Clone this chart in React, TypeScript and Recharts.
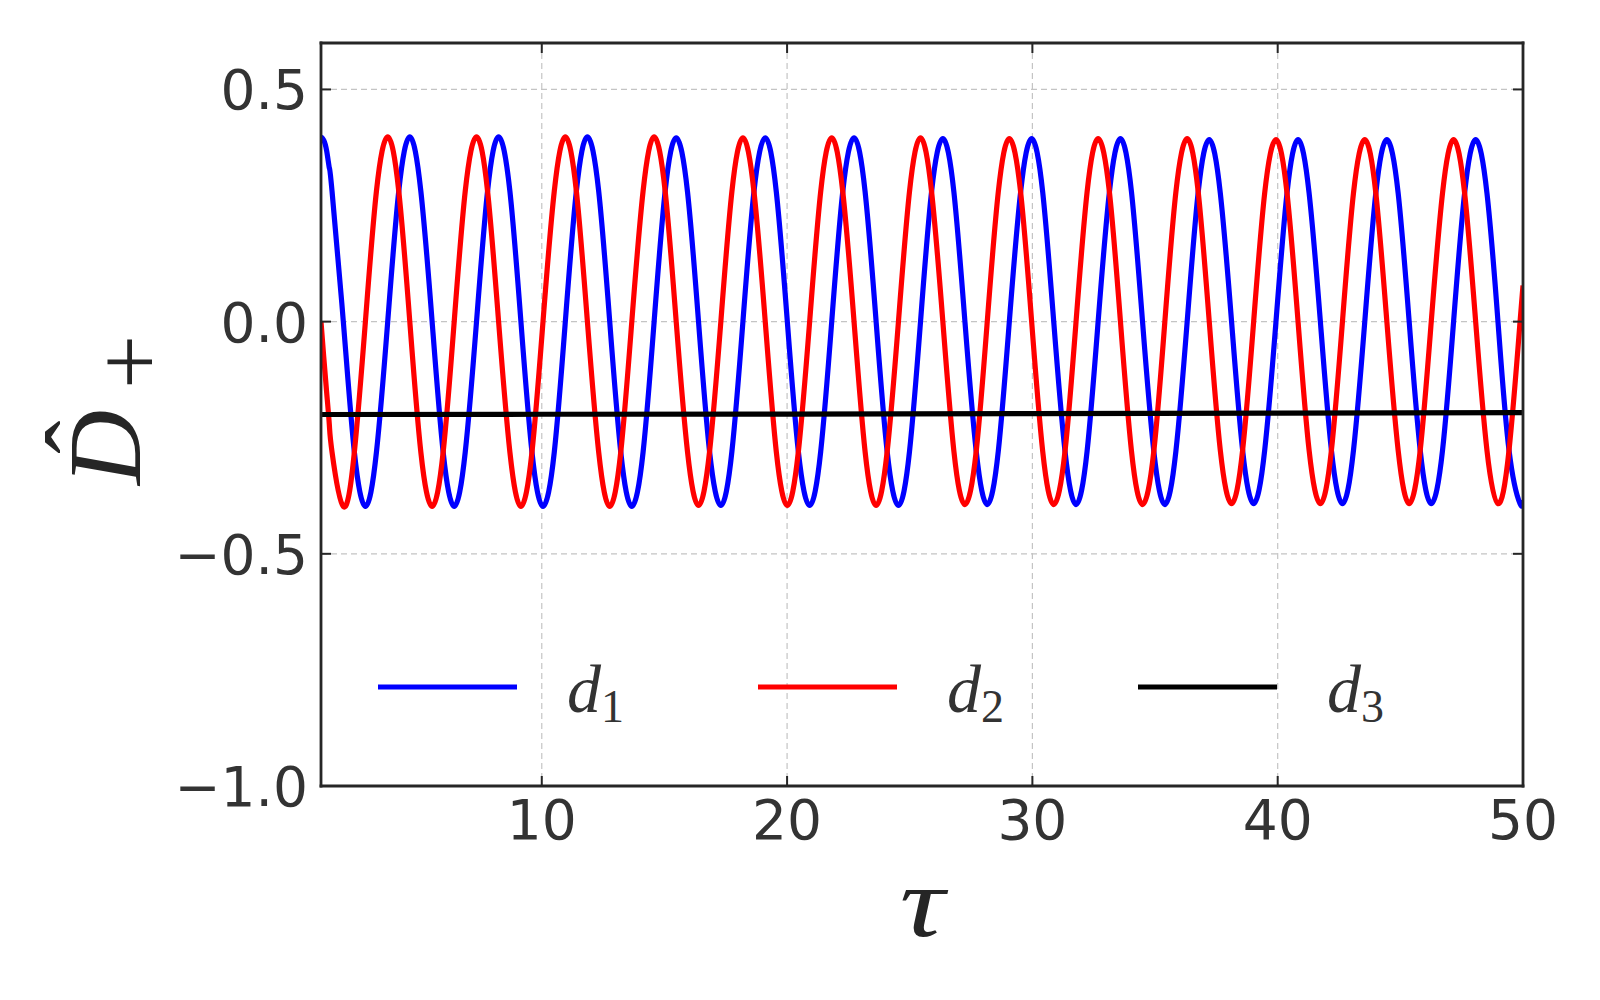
import React from 'react';
import { LineChart, Line, XAxis, YAxis, CartesianGrid, Legend, Label } from 'recharts';

// ---------- data ----------
const tau = [
  1.0, 1.11, 1.23, 1.34, 1.45, 1.91, 2.36, 2.81, 3.26, 3.72, 4.17,
  4.62, 5.07, 5.53, 5.98, 6.43, 6.88, 7.34, 7.79,
  8.24, 8.7, 9.15, 9.6, 10.05, 10.51, 10.96, 11.41,
  11.86, 12.32, 12.77, 13.22, 13.67, 14.13, 14.58, 15.03,
  15.48, 15.94, 16.39, 16.84, 17.3, 17.75, 18.2, 18.65,
  19.11, 19.56, 20.01, 20.46, 20.92, 21.37, 21.82, 22.27,
  22.73, 23.18, 23.63, 24.08, 24.54, 24.99, 25.44, 25.89,
  26.35, 26.8, 27.25, 27.71, 28.16, 28.61, 29.06, 29.52,
  29.97, 30.42, 30.87, 31.33, 31.78, 32.23, 32.68, 33.14,
  33.59, 34.04, 34.49, 34.95, 35.4, 35.85, 36.31, 36.76,
  37.21, 37.66, 38.12, 38.57, 39.02, 39.47, 39.93, 40.38,
  40.83, 41.28, 41.74, 42.19, 42.64, 43.09, 43.55, 44.0,
  44.45, 44.91, 45.36, 45.81, 46.26, 46.72, 47.17, 47.62,
  48.07, 48.53, 48.98, 49.43, 49.88, 50.0,
];

const d1 = [
  0.398, 0.391, 0.368, 0.331, 0.281, 0, -0.281, -0.398, -0.281, 0, 0.281,
  0.398, 0.281, 0, -0.281, -0.398, -0.281, 0, 0.281,
  0.398, 0.281, 0, -0.281, -0.398, -0.281, 0, 0.281,
  0.398, 0.281, 0, -0.281, -0.398, -0.281, 0, 0.281,
  0.396, 0.28, 0, -0.28, -0.396, -0.28, 0, 0.28,
  0.396, 0.28, 0, -0.28, -0.396, -0.28, 0, 0.28,
  0.396, 0.28, 0, -0.28, -0.396, -0.28, 0, 0.28,
  0.394, 0.279, 0, -0.279, -0.394, -0.279, 0, 0.279,
  0.394, 0.279, 0, -0.279, -0.394, -0.279, 0, 0.279,
  0.394, 0.279, 0, -0.279, -0.394, -0.279, 0, 0.279,
  0.392, 0.277, 0, -0.277, -0.392, -0.277, 0, 0.277,
  0.392, 0.277, 0, -0.277, -0.392, -0.277, 0, 0.277,
  0.392, 0.277, 0, -0.277, -0.392, -0.277, 0, 0.277,
  0.392, 0.277, 0, -0.277, -0.392, -0.384,
];

const d2 = [
  0, -0.075, -0.152, -0.222, -0.281, -0.398, -0.281, 0, 0.281, 0.398, 0.281,
  0, -0.281, -0.398, -0.281, 0, 0.281, 0.398, 0.281,
  0, -0.281, -0.398, -0.281, 0, 0.281, 0.398, 0.281,
  0, -0.281, -0.398, -0.281, 0, 0.281, 0.398, 0.281,
  0, -0.28, -0.396, -0.28, 0, 0.28, 0.396, 0.28,
  0, -0.28, -0.396, -0.28, 0, 0.28, 0.396, 0.28,
  0, -0.28, -0.396, -0.28, 0, 0.28, 0.396, 0.28,
  0, -0.279, -0.394, -0.279, 0, 0.279, 0.394, 0.279,
  0, -0.279, -0.394, -0.279, 0, 0.279, 0.394, 0.279,
  0, -0.279, -0.394, -0.279, 0, 0.279, 0.394, 0.279,
  0, -0.277, -0.392, -0.277, 0, 0.277, 0.392, 0.277,
  0, -0.277, -0.392, -0.277, 0, 0.277, 0.392, 0.277,
  0, -0.277, -0.392, -0.277, 0, 0.277, 0.392, 0.277,
  0, -0.277, -0.392, -0.277, 0, 0.078,
];

const tau3 = [1, 10, 20, 30, 40, 50];
const d3 = [-0.2, -0.1995, -0.199, -0.198, -0.197, -0.196];

const seriesNames = ['d1', 'd2', 'd3'];
const seriesSubs = ['1', '2', '3'];
const seriesColors = ['#0000ff', '#ff0000', '#000000'];

const xTicks = [10, 20, 30, 40, 50];
const yTicks = [0.5, 0, -0.5, -1.0];
const xDomain = [1, 50];
const yDomain = [-1.0, 0.6];

// ---------- tables built from the arrays ----------
const data1 = tau.map((t, i) => ({ tau: t, v: d1[i] }));
const data2 = tau.map((t, i) => ({ tau: t, v: d2[i] }));
const data3 = tau3.map((t, i) => ({ tau: t, v: d3[i] }));

// ---------- styling ----------
const FRAME = '#262626';
const TEXT = '#333333';
const TICK = 10;
const TICK_FONT = 'DejaVu Sans';
const TICK_SIZE = 55;
const MATH_FONT = '"Liberation Serif", "DejaVu Serif", serif';
const LW = 5.2;

const fmtY = (v: number) => {
  if (v === 0) return '0.0';
  const s = Math.abs(v).toFixed(1);
  return v < 0 ? '\u2212' + s : s;
};

const BottomTick = (p: any) => {
  const { x, y, payload } = p;
  return (
    <g>
      <line x1={x} y1={y} x2={x} y2={y - TICK} stroke={FRAME} strokeWidth={2} />
      <text x={x} y={y + 53} textAnchor="middle" fontFamily={TICK_FONT} fontSize={TICK_SIZE} fill={TEXT}>
        {String(payload.value)}
      </text>
    </g>
  );
};

const TopTick = (p: any) => {
  const { x, y } = p;
  return <line x1={x} y1={y} x2={x} y2={y + TICK} stroke={FRAME} strokeWidth={2} />;
};

const LeftTick = (p: any) => {
  const { x, y, payload } = p;
  return (
    <g>
      <line x1={x} y1={y} x2={x + TICK} y2={y} stroke={FRAME} strokeWidth={2} />
      <text x={x - 13} y={y + 20} textAnchor="end" fontFamily={TICK_FONT} fontSize={TICK_SIZE} fill={TEXT}>
        {fmtY(payload.value)}
      </text>
    </g>
  );
};

const RightTick = (p: any) => {
  const { x, y } = p;
  return <line x1={x} y1={y} x2={x - TICK} y2={y} stroke={FRAME} strokeWidth={2} />;
};

const XLabel = () => (
  <text
    x={0}
    y={0}
    transform="translate(922,936) scale(1.25,1)"
    textAnchor="middle"
    fontFamily={MATH_FONT}
    fontStyle="italic"
    fontSize={100}
    fill={FRAME}
  >
    τ
  </text>
);

const YLabel = () => (
  <g transform="translate(140,485) rotate(-90)">
    <text x={0} y={0} fontFamily={MATH_FONT} fontStyle="italic" fontSize={104} fill={FRAME}>
      D
    </text>
    <text x={48} y={-25} textAnchor="middle" fontFamily={MATH_FONT} fontSize={100} fill={FRAME}>
      {'\u02C6'}
    </text>
    <text x={96} y={21} fontFamily={MATH_FONT} fontSize={96} fill={FRAME}>
      +
    </text>
  </g>
);

const LegendContent = (props: any) => {
  const payload = props.payload || [];
  return (
    <svg width={1600} height={1000} style={{ position: 'absolute', left: 0, top: 0, pointerEvents: 'none' }}>
      {payload.map((entry: any, i: number) => {
        const x0 = 378 + i * 380;
        return (
          <g key={i}>
            <line x1={x0} y1={687} x2={x0 + 139} y2={687} stroke={entry.color} strokeWidth={LW} />
            <text x={x0 + 189} y={712} fontFamily={MATH_FONT} fill={TEXT}>
              <tspan fontStyle="italic" fontSize={68}>d</tspan>
              <tspan fontSize={46} dy={10}>{seriesSubs[i]}</tspan>
            </text>
          </g>
        );
      })}
    </svg>
  );
};

export default function App() {
  return (
    <div style={{ position: 'absolute', left: 0, top: 0, width: 1600, height: 1000, background: '#fff' }}>
      <LineChart width={1600} height={1000} margin={{ top: 42, right: 76, bottom: 0, left: 0 }}>
        <CartesianGrid stroke="#c4c4c4" strokeDasharray="6 4" strokeWidth={1.2} />
        <XAxis
          dataKey="tau"
          type="number"
          domain={xDomain}
          ticks={xTicks}
          allowDataOverflow
          interval={0}
          height={214}
          tickSize={0}
          tickMargin={0}
          tickLine={false}
          axisLine={{ stroke: FRAME, strokeWidth: 2.8, strokeLinecap: 'square' }}
          tick={BottomTick}
        >
          <Label content={XLabel} />
        </XAxis>
        <XAxis
          xAxisId="top"
          orientation="top"
          dataKey="tau"
          type="number"
          domain={xDomain}
          ticks={xTicks}
          allowDataOverflow
          interval={0}
          height={1}
          tickSize={0}
          tickMargin={0}
          tickLine={false}
          axisLine={{ stroke: FRAME, strokeWidth: 2.8, strokeLinecap: 'square' }}
          tick={TopTick}
        />
        <YAxis
          type="number"
          domain={yDomain}
          ticks={yTicks}
          allowDataOverflow
          interval={0}
          width={321}
          tickSize={0}
          tickMargin={0}
          tickLine={false}
          axisLine={{ stroke: FRAME, strokeWidth: 2.8, strokeLinecap: 'square' }}
          tick={LeftTick}
        >
          <Label content={YLabel} />
        </YAxis>
        <YAxis
          yAxisId="right"
          orientation="right"
          type="number"
          domain={yDomain}
          ticks={yTicks}
          allowDataOverflow
          interval={0}
          width={1}
          tickSize={0}
          tickMargin={0}
          tickLine={false}
          axisLine={{ stroke: FRAME, strokeWidth: 2.8, strokeLinecap: 'square' }}
          tick={RightTick}
        />
        <Line data={data1} dataKey="v" name={seriesNames[0]} type="natural" stroke={seriesColors[0]} strokeWidth={LW} dot={false} isAnimationActive={false} />
        <Line data={data2} dataKey="v" name={seriesNames[1]} type="natural" stroke={seriesColors[1]} strokeWidth={LW} dot={false} isAnimationActive={false} />
        <Line data={data3} dataKey="v" name={seriesNames[2]} type="linear" stroke={seriesColors[2]} strokeWidth={LW} dot={false} isAnimationActive={false} />
        <Legend
          layout="horizontal"
          verticalAlign="middle"
          align="center"
          content={LegendContent}
          wrapperStyle={{ position: 'absolute', left: 0, top: 0, width: 1600, height: 1000, pointerEvents: 'none' }}
        />
      </LineChart>
    </div>
  );
}
